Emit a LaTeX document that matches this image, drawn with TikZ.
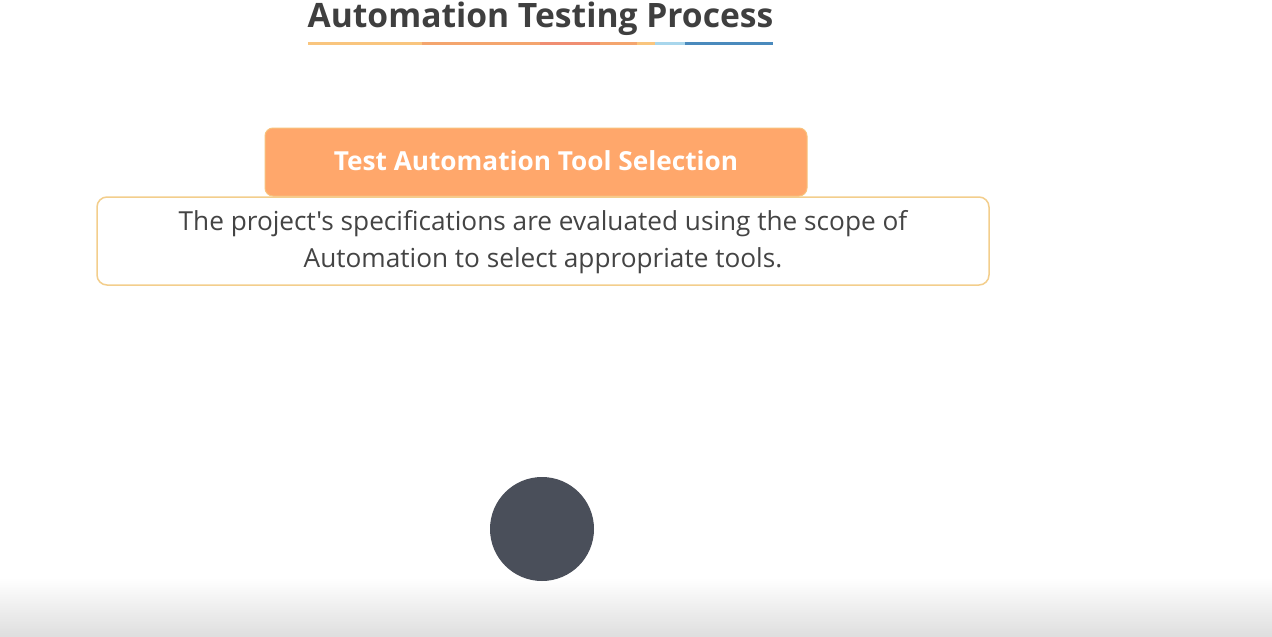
\documentclass[tikz,border=0pt]{standalone}
\usepackage{fontspec}
\setmainfont{Open Sans}
\newfontfamily\plainfont{Open Sans}
\definecolor{titlegray}{HTML}{3F3F3F}
\definecolor{textgray}{HTML}{444444}
\definecolor{boxorange}{HTML}{FFA76B}
\definecolor{boxborder}{HTML}{F8C27C}
\definecolor{descborder}{HTML}{F3CE8C}
\definecolor{dotgray}{HTML}{4A4F5A}
\definecolor{ulA}{HTML}{F9C57E}
\definecolor{ulB}{HTML}{F4A56E}
\definecolor{ulC}{HTML}{F08E72}
\definecolor{ulD}{HTML}{A8D6EC}
\definecolor{ulE}{HTML}{4A8ABD}
\definecolor{shadegray}{HTML}{DEDEDE}
\begin{document}
\begin{tikzpicture}[x=1pt,y=-1pt,
  ul/.style={line width=3pt},
  headbox/.style={rounded corners=8pt, fill=boxorange, draw=boxborder, line width=1pt},
  descbox/.style={rounded corners=10pt, fill=white, draw=descborder, line width=1.5pt}]
\useasboundingbox (0,0) rectangle (1272,637);
\fill[white] (0,0) rectangle (1272,637);
\shade[top color=white, bottom color=shadegray] (0,578) rectangle (1272,637);
% title
\node[anchor=base, text=titlegray, font=\bfseries\fontsize{33.6}{40}\selectfont, inner sep=0] (title) at (540.5,27.5) {Automation Testing Process};
\draw[ul, ulA] (308,43) -- (422,43);
\draw[ul, ulB] (422,43) -- (540,43);
\draw[ul, ulC] (540,43) -- (600,43);
\draw[ul, ulB] (600,43) -- (637,43);
\draw[ul, ulA] (637,43) -- (655,43);
\draw[ul, ulD] (655,43) -- (685,43);
\draw[ul, ulE] (685,43) -- (773,43);
% description box
\draw[descbox] (97,197) rectangle (989,285);
\node[text=textgray, align=center, font=\plainfont\fontsize{26.2}{37}\selectfont, inner sep=0] (desc) at (543,242) {The project's specifications are evaluated using the scope of\\Automation to select appropriate tools.};
% header box
\draw[headbox] (265,128) rectangle (807,196);
\node[text=white, font=\bfseries\fontsize{26.2}{30}\selectfont, inner sep=0] (head) at (536,161) {Test Automation Tool Selection};
% dot
\node[circle, fill=dotgray, minimum size=104pt, inner sep=0] (dot) at (542,529) {};
\end{tikzpicture}
\end{document}
